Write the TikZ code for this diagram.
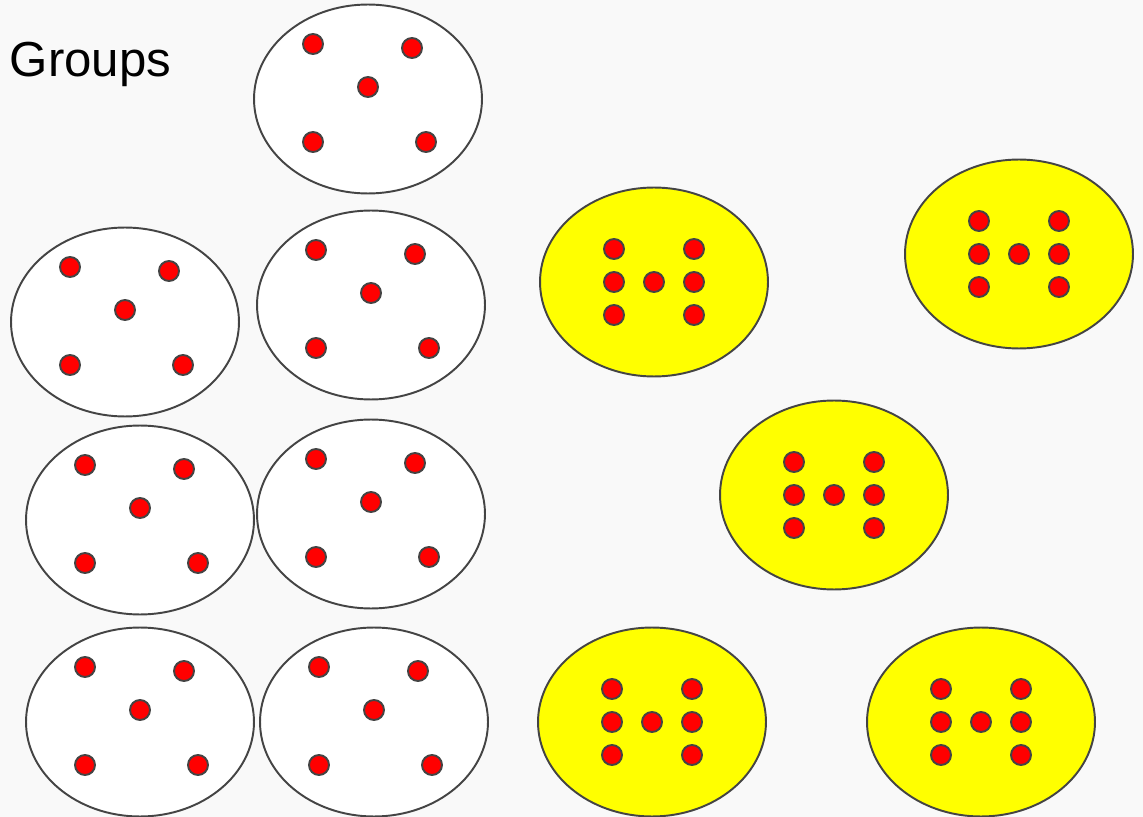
\documentclass[tikz,border=0pt]{standalone}
\usepackage{fontspec}
\setsansfont{Liberation Sans}
\usetikzlibrary{shapes.geometric, positioning}
\definecolor{cback}{HTML}{F9F9F9}
\definecolor{cedge}{HTML}{444444}
\definecolor{cred}{HTML}{FF0000}
\definecolor{cyellow}{HTML}{FFFF00}
\tikzset{
  every picture/.style={font=\sffamily, line width=1.1pt},
  group/.style={ellipse, draw=cedge, fill=#1, minimum width=4.56cm, minimum height=3.78cm, inner sep=0pt},
  group/.default=white,
  dot/.style={circle, draw=cedge, fill=cred, minimum size=0.4cm, inner sep=0pt, line width=1.1pt},
  title/.style={font=\sffamily\fontsize{28}{34}\selectfont, anchor=base west, inner sep=0pt},
}

\begin{document}
\begin{tikzpicture}[x=0.02cm, y=-0.02cm]
  \fill[cback] (0,0) rectangle (1143,817);
  \useasboundingbox (0,0) rectangle (1143,817);
  \node[title] (groups) at (9,77) {Groups};
  % groups of five
  \foreach \n/\x/\y in {w1/368/99, w2/125/322, w3/371/305, w4/140/520, w5/371/514, w6/140/722, w7/374/722} {
    \node[group] (\n) at (\x,\y) {};
    \foreach \dx/\dy [count=\i] in {-55/-55, 44/-51, 0/-12, -55/43, 58/43}
      \node[dot] (\n-\i) at ([shift={(\dx,\dy)}]\n) {};
  }
  % groups of seven
  \foreach \n/\x/\y in {y1/654/282, y2/1019/254, y3/834/495, y4/652/722, y5/981/722} {
    \node[group=cyellow] (\n) at (\x,\y) {};
    \foreach \dx/\dy [count=\i] in {-40/-33, 40/-33, -40/0, 0/0, 40/0, -40/33, 40/33}
      \node[dot] (\n-\i) at ([shift={(\dx,\dy)}]\n) {};
  }
\end{tikzpicture}
\end{document}
